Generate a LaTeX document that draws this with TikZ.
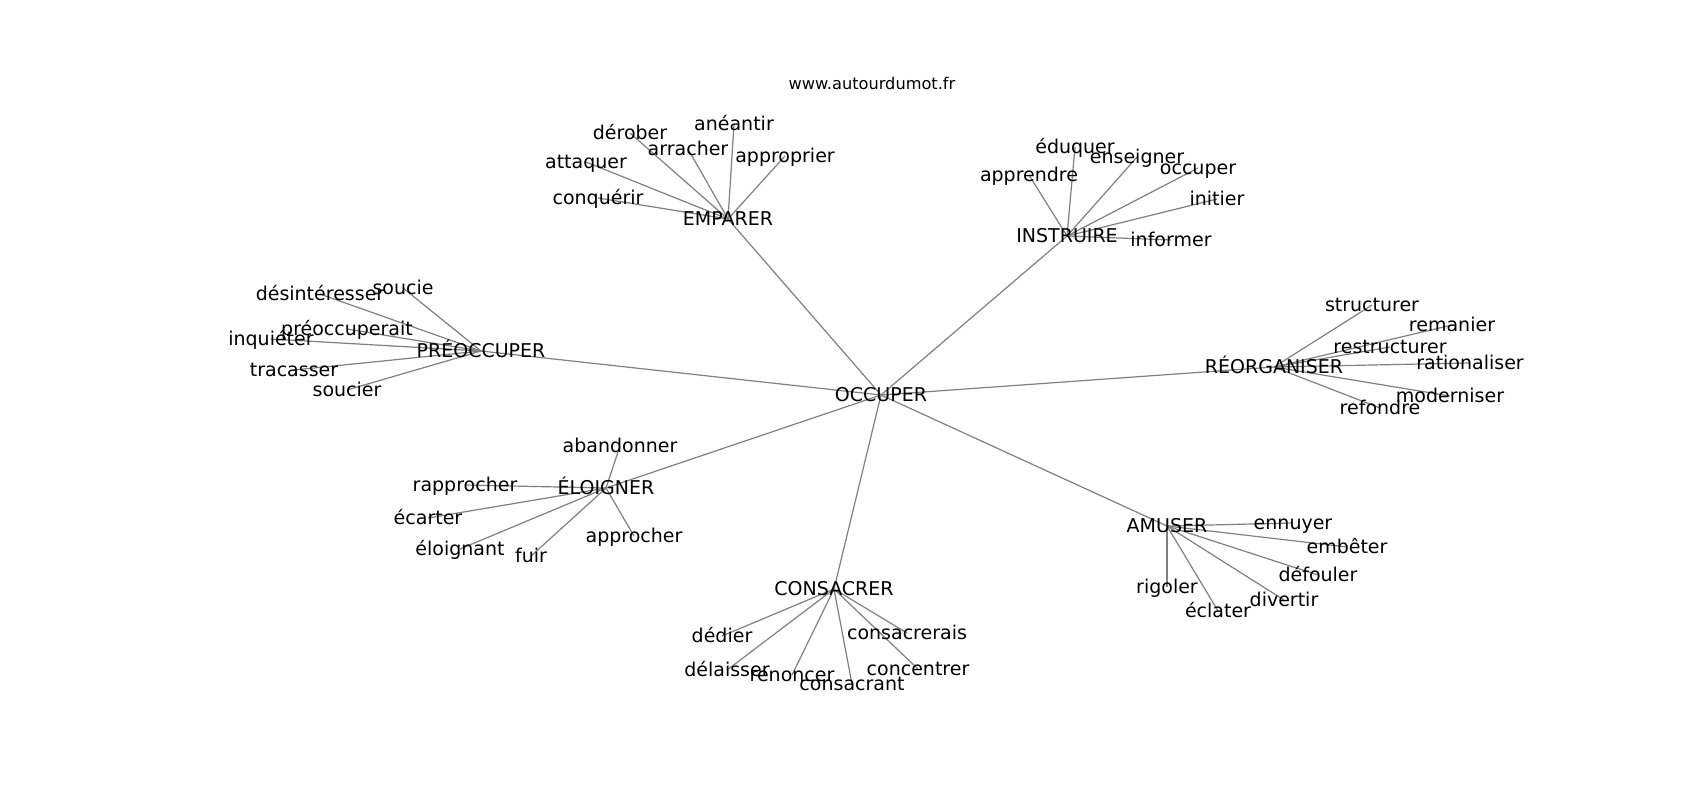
\documentclass[tikz,border=0pt]{standalone}
\usepackage{fontspec}
\setmainfont{DejaVu Sans}
\usetikzlibrary{backgrounds}
\tikzset{
    word/.style={inner sep=0pt, text height=0.8em, text depth=0.2em, font=\fontsize{9.5}{11}\selectfont},
    link/.style={draw=gray, line width=0.6pt},
}

\begin{document}
\begin{tikzpicture}[x=0.5pt, y=-0.5pt]
    \useasboundingbox (0,0) rectangle (1700,800);
    \node[inner sep=0pt, font=\fontsize{8.1}{10}\selectfont] (site) at (872,83) {www.autourdumot.fr};
    \node[word] (occuper) at (881,395) {OCCUPER};
    % EMPARER
    \node[word] (emparer) at (728,219) {EMPARER};
    \node[word] (aneantir) at (734,124) {anéantir};
    \node[word] (derober) at (630,133) {dérober};
    \node[word] (arracher) at (688,149) {arracher};
    \node[word] (approprier) at (785,156) {approprier};
    \node[word] (attaquer) at (586,162) {attaquer};
    \node[word] (conquerir) at (598,198) {conquérir};
    % INSTRUIRE
    \node[word] (instruire) at (1067,236) {INSTRUIRE};
    \node[word] (eduquer) at (1075,147) {éduquer};
    \node[word] (enseigner) at (1137,157) {enseigner};
    \node[word] (occupe) at (1198,168) {occuper};
    \node[word] (apprendre) at (1029,175) {apprendre};
    \node[word] (initier) at (1217,199) {initier};
    \node[word] (informer) at (1171,240) {informer};
    % PREOCCUPER
    \node[word] (preoccuper) at (481,351) {PRÉOCCUPER};
    \node[word] (desinteresser) at (320,294) {désintéresser};
    \node[word] (soucie) at (403,288) {soucie};
    \node[word] (preoccuperait) at (347,329) {préoccuperait};
    \node[word] (inquieter) at (271,339) {inquiéter};
    \node[word] (tracasser) at (294,370) {tracasser};
    \node[word] (soucier) at (347,390) {soucier};
    % REORGANISER
    \node[word] (reorganiser) at (1274,367) {RÉORGANISER};
    \node[word] (structurer) at (1372,305) {structurer};
    \node[word] (remanier) at (1452,325) {remanier};
    \node[word] (restructurer) at (1390,347) {restructurer};
    \node[word] (rationaliser) at (1470,363) {rationaliser};
    \node[word] (moderniser) at (1450,396) {moderniser};
    \node[word] (refondre) at (1380,408) {refondre};
    % ELOIGNER
    \node[word] (eloigner) at (606,488) {ÉLOIGNER};
    \node[word] (abandonner) at (620,446) {abandonner};
    \node[word] (rapprocher) at (465,485) {rapprocher};
    \node[word] (ecarter) at (428,518) {écarter};
    \node[word] (approcher) at (634,536) {approcher};
    \node[word] (eloignant) at (460,549) {éloignant};
    \node[word] (fuir) at (531,556) {fuir};
    % AMUSER
    \node[word] (amuser) at (1167,526) {AMUSER};
    \node[word] (ennuyer) at (1293,523) {ennuyer};
    \node[word] (embeter) at (1347,547) {embêter};
    \node[word] (defouler) at (1318,575) {défouler};
    \node[word] (rigoler) at (1167,587) {rigoler};
    \node[word] (divertir) at (1284,600) {divertir};
    \node[word] (eclater) at (1218,611) {éclater};
    % CONSACRER
    \node[word] (consacrer) at (834,589) {CONSACRER};
    \node[word] (dedier) at (722,636) {dédier};
    \node[word] (consacrerais) at (907,633) {consacrerais};
    \node[word] (delaisser) at (727,670) {délaisser};
    \node[word] (renoncer) at (792,675) {renoncer};
    \node[word] (consacrant) at (852,684) {consacrant};
    \node[word] (concentrer) at (918,669) {concentrer};

    \begin{scope}[on background layer]
        \fill[white] (0,0) rectangle (1700,800);
        \foreach \h in {emparer,instruire,preoccuper,reorganiser,eloigner,amuser,consacrer}
            \draw[link] (occuper.center) -- (\h.center);
        \foreach \w in {aneantir,derober,arracher,approprier,attaquer,conquerir}
            \draw[link] (emparer.center) -- (\w.center);
        \foreach \w in {eduquer,enseigner,occupe,apprendre,initier,informer}
            \draw[link] (instruire.center) -- (\w.center);
        \foreach \w in {desinteresser,soucie,preoccuperait,inquieter,tracasser,soucier}
            \draw[link] (preoccuper.center) -- (\w.center);
        \foreach \w in {structurer,remanier,restructurer,rationaliser,moderniser,refondre}
            \draw[link] (reorganiser.center) -- (\w.center);
        \foreach \w in {abandonner,rapprocher,ecarter,approcher,eloignant,fuir}
            \draw[link] (eloigner.center) -- (\w.center);
        \foreach \w in {ennuyer,embeter,defouler,rigoler,divertir,eclater}
            \draw[link] (amuser.center) -- (\w.center);
        \foreach \w in {dedier,consacrerais,delaisser,renoncer,consacrant,concentrer}
            \draw[link] (consacrer.center) -- (\w.center);
    \end{scope}
\end{tikzpicture}
\end{document}
